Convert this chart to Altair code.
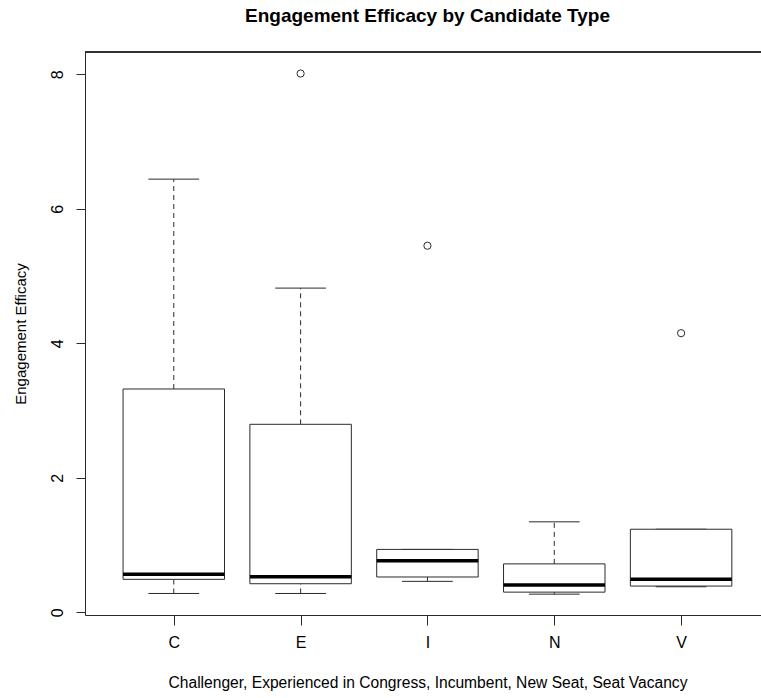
import altair as alt
import pandas as pd

# Box-plot summary per candidate type (R boxplot statistics)
categories = ["C", "E", "I", "N", "V"]
lower_whisker = [0.28, 0.28, 0.46, 0.27, 0.38]
lower_hinge = [0.49, 0.425, 0.525, 0.30, 0.39]
medians = [0.565, 0.53, 0.765, 0.405, 0.49]
upper_hinge = [3.32, 2.795, 0.935, 0.72, 1.235]
upper_whisker = [6.44, 4.82, 0.935, 1.345, 1.235]

# Points beyond the whiskers
outlier_groups = ["E", "I", "V"]
outlier_values = [8.01, 5.45, 4.15]

FONT = "Liberation Sans, Arial, Helvetica, sans-serif"
INK = "#2b2b2b"
W, H = 676, 563

stats = pd.DataFrame({
    "group": categories,
    "pos": list(range(1, len(categories) + 1)),
    "lo": lower_whisker,
    "q1": lower_hinge,
    "med": medians,
    "q3": upper_hinge,
    "hi": upper_whisker,
})
pos_of = {c: i + 1 for i, c in enumerate(categories)}
outliers = pd.DataFrame({
    "group": outlier_groups,
    "pos": [pos_of[g] for g in outlier_groups],
    "value": outlier_values,
})

label_expr = "[" + ",".join(f"'{c}'" for c in categories) + "][datum.value - 1]"

x_scale = alt.Scale(domain=[0.3, 5.63], nice=False, zero=False)
y_scale = alt.Scale(domain=[-0.04, 8.33], nice=False, zero=False)

x_axis = alt.Axis(
    values=[1, 2, 3, 4, 5], labelExpr=label_expr, title="Challenger, Experienced in Congress, Incumbent, New Seat, Seat Vacancy",
    grid=False, tickSize=10, tickColor=INK, domainColor=INK, labelFontSize=16, labelFont=FONT,
    labelColor="black", labelPadding=9, labelBaseline="top",
    titleFont=FONT, titleFontSize=15.6, titleFontWeight="normal", titleColor="black",
    titleX=342.5, titleY=72, titleAlign="center", titleBaseline="alphabetic",
)
y_axis = alt.Axis(
    values=[0, 2, 4, 6, 8], format="d", title="Engagement Efficacy", grid=False, tickSize=9,
    tickColor=INK, domainColor=INK, labelFontSize=16, labelFont=FONT, labelColor="black",
    labelAngle=270, labelAlign="center", labelBaseline="middle", labelPadding=19,
    titleFont=FONT, titleFontSize=15, titleFontWeight="normal", titleColor="black",
    titleAngle=270, titleX=-64.5, titleY=281.5, titleAlign="center", titleBaseline="middle",
)

base = alt.Chart(stats).transform_calculate(
    left="datum.pos - 0.4", right="datum.pos + 0.4",
    capl="datum.pos - 0.2", capr="datum.pos + 0.2",
)

whisker_up = base.mark_rule(color=INK, strokeWidth=1, strokeDash=[5, 4]).encode(
    x=alt.X("pos:Q", scale=x_scale, axis=x_axis),
    y=alt.Y("q3:Q", scale=y_scale, axis=y_axis),
    y2="hi:Q",
)
whisker_down = base.mark_rule(color=INK, strokeWidth=1, strokeDash=[5, 4]).encode(
    x="pos:Q", y="lo:Q", y2="q1:Q",
)
cap_hi = base.mark_rule(color=INK, strokeWidth=1).encode(x="capl:Q", x2="capr:Q", y="hi:Q")
cap_lo = base.mark_rule(color=INK, strokeWidth=1).encode(x="capl:Q", x2="capr:Q", y="lo:Q")
boxes = base.mark_rect(fill="white", stroke=INK, strokeWidth=1).encode(
    x="left:Q", x2="right:Q", y="q1:Q", y2="q3:Q",
)
median_lines = base.mark_rule(color="black", strokeWidth=3.5).encode(
    x="left:Q", x2="right:Q", y="med:Q",
)
outlier_pts = alt.Chart(outliers).mark_point(
    shape="circle", filled=False, size=52, color=INK, strokeWidth=1, opacity=1,
).encode(x="pos:Q", y="value:Q")

top_border = alt.Chart(stats).mark_rule(color=INK, strokeWidth=1).encode(
    x=alt.value(0), x2=alt.value(W), y=alt.value(0),
)

chart = alt.layer(
    whisker_up, whisker_down, cap_hi, cap_lo, boxes, median_lines, outlier_pts, top_border,
).properties(
    width=W,
    height=H,
    title=alt.TitleParams(
        "Engagement Efficacy by Candidate Type", font=FONT, fontSize=19, fontWeight="bold",
        color="black", anchor="middle", frame="group", dx=4.5, offset=11, baseline="alphabetic",
    ),
    autosize=alt.AutoSizeParams(type="none"),
    padding={"left": 85, "top": 52, "right": 0, "bottom": 83},
).configure_view(stroke=None).configure(background="white")

chart.save("out.html", embed_options={"renderer": "svg", "actions": False})
